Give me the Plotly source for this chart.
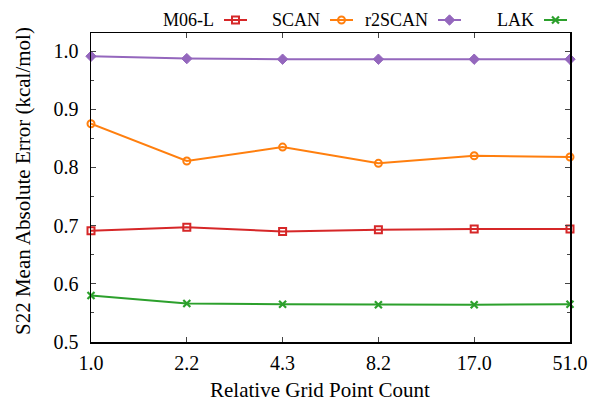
import plotly.graph_objects as go

# ---- data ----
grid_labels = ["1.0", "2.2", "4.3", "8.2", "17.0", "51.0"]
m06l = [0.691, 0.697, 0.690, 0.693, 0.694, 0.694]
scan = [0.875, 0.811, 0.835, 0.807, 0.820, 0.818]
r2scan = [0.991, 0.987, 0.986, 0.986, 0.986, 0.986]
lak = [0.580, 0.566, 0.565, 0.564, 0.564, 0.565]
y_ticks = [0.5, 0.6, 0.7, 0.8, 0.9, 1.0]

series_names = ["M06-L", "SCAN", "r2SCAN", "LAK"]
series_values = [m06l, scan, r2scan, lak]
colors = ["#d62728", "#ff7f0e", "#9467bd", "#2ca02c"]
symbols = ["square-open", "circle-open", "diamond", "x-thin-open"]
msizes = [7, 7, 8, 7]
mlw = [2, 2, 1, 2.2]

W, H = 590, 402
FONT = "Liberation Serif, Times New Roman, serif"

fig = go.Figure()
for name, vals, c, s, ms, lw in zip(series_names, series_values, colors, symbols, msizes, mlw):
    mk = dict(symbol=s, size=ms, color=c, line=dict(color=c, width=lw))
    fig.add_trace(go.Scatter(
        x=grid_labels, y=vals, mode="lines+markers", name=name,
        line=dict(color=c, width=2), marker=mk, cliponaxis=False,
        showlegend=False, xaxis="x", yaxis="y"))

# gnuplot-style key: label text followed by a sample (pixel overlay axes)
key_text_right = [216, 322, 430, 536]
key_y = 20
for name, c, s, ms, lw, xr in zip(series_names, colors, symbols, msizes, mlw, key_text_right):
    x0, x1 = xr + 8, xr + 31
    fig.add_trace(go.Scatter(
        x=[x0, (x0 + x1) / 2, x1], y=[key_y] * 3, mode="lines",
        line=dict(color=c, width=2), showlegend=False, hoverinfo="skip",
        xaxis="x2", yaxis="y2"))
    fig.add_trace(go.Scatter(
        x=[(x0 + x1) / 2], y=[key_y], mode="markers",
        marker=dict(symbol=s, size=ms, color=c, line=dict(color=c, width=lw)),
        showlegend=False, hoverinfo="skip", xaxis="x2", yaxis="y2"))
    fig.add_annotation(x=xr, y=key_y, xref="x2", yref="y2", text=name,
                       showarrow=False, xanchor="right", yanchor="middle",
                       font=dict(family=FONT, size=18, color="black"))

# axis titles placed like the reference
fig.add_annotation(x=320, y=390, xref="x2", yref="y2",
                   text="Relative Grid Point Count", showarrow=False,
                   xanchor="center", yanchor="middle",
                   font=dict(family=FONT, size=21, color="black"))
fig.add_annotation(x=23, y=181, xref="x2", yref="y2", textangle=-90,
                   text="S22 Mean Absolute Error (kcal/mol)", showarrow=False,
                   xanchor="center", yanchor="middle",
                   font=dict(family=FONT, size=21, color="black"))

x_dom = [91 / W, 570 / W]
y_dom = [(H - 342) / H, (H - 33) / H]
tick_font = dict(family=FONT, size=20, color="black")

fig.update_layout(
    width=W, height=H,
    margin=dict(l=0, r=0, t=0, b=0, autoexpand=False),
    paper_bgcolor="white", plot_bgcolor="rgba(0,0,0,0)",
    font=dict(family=FONT, size=20, color="black"),
    xaxis=dict(
        domain=x_dom, type="category", range=[0, len(grid_labels) - 1],
        showline=True, linecolor="black", linewidth=1.5, mirror="ticks",
        ticks="inside", ticklen=5, tickcolor="#444", tickwidth=1,
        showgrid=False, zeroline=False, automargin=False,
        ticklabelstandoff=2, tickfont=tick_font, anchor="y"),
    yaxis=dict(
        domain=y_dom, range=[0.5, 1.031],
        tickvals=y_ticks, tickformat=".1f",
        showline=True, linecolor="black", linewidth=1.5, mirror="ticks",
        ticks="inside", ticklen=5, tickcolor="#444", tickwidth=1,
        minor=dict(tickvals=[0.55, 0.65, 0.75, 0.85, 0.95], ticks="inside",
                   ticklen=3, tickcolor="#444", showgrid=False),
        showgrid=False, zeroline=False, ticklabelstandoff=7, automargin=False,
        tickfont=tick_font, anchor="x"),
    xaxis2=dict(domain=[0, 1], range=[0, W], visible=False, anchor="y2",
                fixedrange=True, automargin=False),
    yaxis2=dict(domain=[0, 1], range=[H, 0], visible=False, anchor="x2",
                fixedrange=True, automargin=False),
)

fig.write_html("out.html",
               config={"displayModeBar": False, "staticPlot": True},
               post_script="document.body.style.margin='0';"
                           "document.body.style.overflow='hidden';")
